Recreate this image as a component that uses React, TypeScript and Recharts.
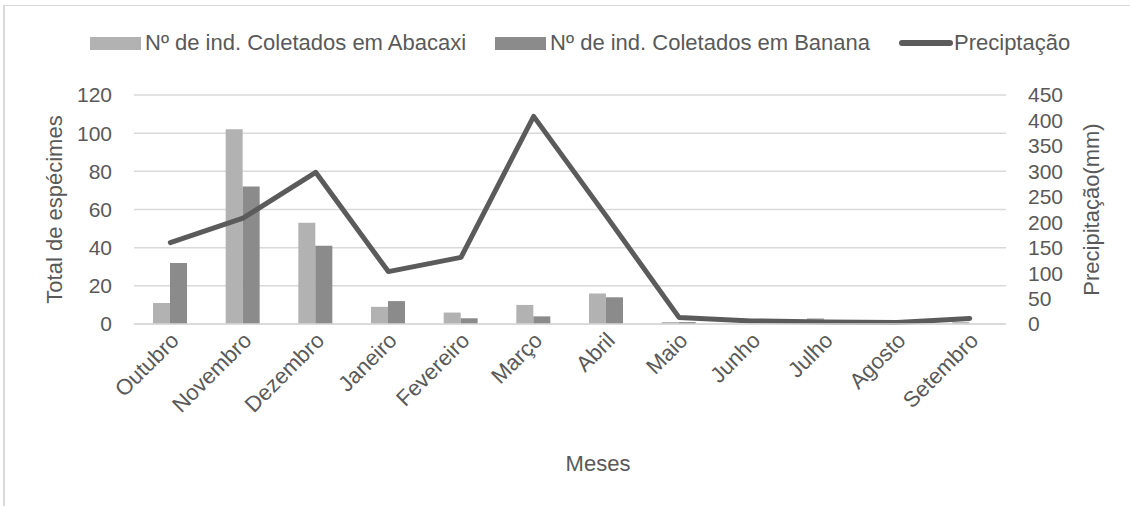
import { Bar, CartesianGrid, ComposedChart, Line, XAxis, YAxis } from "recharts";

const months = ["Outubro", "Novembro", "Dezembro", "Janeiro", "Fevereiro", "Março", "Abril", "Maio", "Junho", "Julho", "Agosto", "Setembro"];
const abacaxi = [11, 102, 53, 9, 6, 10, 16, 1, 0, 3, 0, 1];
const banana = [32, 72, 41, 12, 3, 4, 14, 1, 0, 0, 0, 0];
const precip = [160, 208, 298, 103, 131, 408, 212, 13, 6, 4, 3, 11];
const leftTicks = [0, 20, 40, 60, 80, 100, 120];
const rightTicks = [0, 50, 100, 150, 200, 250, 300, 350, 400, 450];

const seriesNames = ["Nº de ind. Coletados em Abacaxi", "Nº de ind. Coletados em Banana", "Preciptação"];
const colors = ["#b2b2b2", "#8b8b8b", "#5b5b5b"];

const FONT = "'Liberation Sans', Arial, sans-serif";
const TEXT = "#595959";
const GRID = "#d9d9d9";

const data = months.map((m, i) => ({ month: m, abacaxi: abacaxi[i], banana: banana[i], precip: precip[i] }));

function MonthTick({ x, y, payload }: any) {
  return (
    <g transform={`translate(${x - 1},${y - 1})`}>
      <text x={0} y={0} dy="0.7em" textAnchor="end" transform="rotate(-45)" fill={TEXT} fontSize={22} fontFamily={FONT}>
        {payload.value}
      </text>
    </g>
  );
}

function SideTitle({ viewBox, text, dx }: any) {
  const cx = viewBox.x + dx;
  const cy = viewBox.y + viewBox.height / 2;
  return (
    <text x={cx} y={cy} transform={`rotate(-90, ${cx}, ${cy})`} textAnchor="middle" dominantBaseline="central" fill={TEXT} fontSize={22} fontFamily={FONT}>
      {text}
    </text>
  );
}

// legend drawn as a plain row above the plot, like the Excel original
function LegendRow() {
  return (
    <div style={{ position: "absolute", left: 90, top: 30, display: "flex", alignItems: "center", gap: 29, fontFamily: FONT, fontSize: 22, color: TEXT }}>
      {seriesNames.map((n, i) => (
        <div key={n} style={{ display: "flex", alignItems: "center" }}>
          {i < 2 ? (
            <div style={{ width: 51, height: 13, background: colors[i], marginRight: 4 }} />
          ) : (
            <div style={{ width: 54, height: 6, borderRadius: 3, background: colors[i], marginRight: 1 }} />
          )}
          <span>{n}</span>
        </div>
      ))}
    </div>
  );
}

export default function App() {
  return (
    <div style={{ position: "fixed", left: 0, top: 0, width: 1130, height: 506, background: "#fff", overflow: "hidden" }}>
      <div style={{ position: "absolute", left: 3, top: 5, right: 0, bottom: 0, borderLeft: `2px solid ${GRID}`, borderTop: `1px solid ${GRID}` }} />
      <LegendRow />
      <div style={{ position: "absolute", left: 0, top: 0 }}>
        <ComposedChart width={1130} height={506} data={data} margin={{ top: 95, right: 0, bottom: 27, left: 0 }} barSize={17} barGap={0}>
          <CartesianGrid vertical={false} stroke={GRID} strokeWidth={1.5} yAxisId="left" />
          <XAxis
            dataKey="month"
            interval={0}
            tickLine={false}
            axisLine={{ stroke: GRID, strokeWidth: 1.5 }}
            height={155}
            tick={<MonthTick />}
            label={{ value: "Meses", position: "insideBottom", offset: 8, dx: 28, fill: TEXT, fontSize: 22, fontFamily: FONT }}
          />
          <YAxis
            yAxisId="left"
            width={134}
            domain={[0, 120]}
            ticks={leftTicks}
            interval={0}
            tickLine={false}
            axisLine={false}
            tickMargin={16}
            tick={{ fill: TEXT, fontSize: 21, fontFamily: FONT }}
            label={{ content: (p: any) => <SideTitle {...p} text="Total de espécimes" dx={54} /> }}
          />
          <YAxis
            yAxisId="right"
            orientation="right"
            width={124}
            domain={[0, 450]}
            ticks={rightTicks}
            interval={0}
            tickLine={false}
            axisLine={false}
            tickMargin={16}
            tick={{ fill: TEXT, fontSize: 21, fontFamily: FONT, textAnchor: "start" }}
            label={{ content: (p: any) => <SideTitle {...p} text="Precipitação(mm)" dx={85} /> }}
          />
          <Bar yAxisId="left" dataKey="abacaxi" name={seriesNames[0]} fill={colors[0]} isAnimationActive={false} />
          <Bar yAxisId="left" dataKey="banana" name={seriesNames[1]} fill={colors[1]} isAnimationActive={false} />
          <Line
            yAxisId="right"
            type="linear"
            dataKey="precip"
            name={seriesNames[2]}
            stroke={colors[2]}
            strokeWidth={5}
            strokeLinecap="round"
            strokeLinejoin="round"
            dot={false}
            isAnimationActive={false}
          />
        </ComposedChart>
      </div>
    </div>
  );
}
